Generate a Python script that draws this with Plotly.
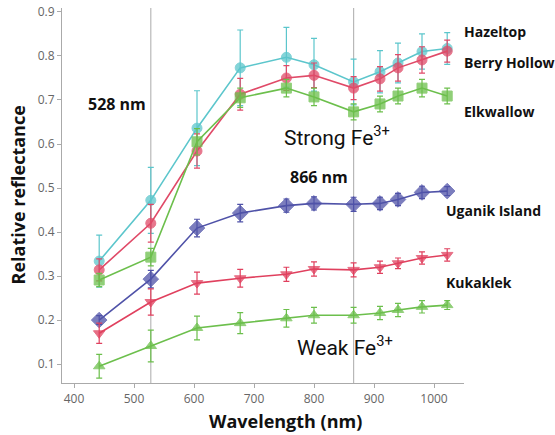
import plotly.graph_objects as go

wavelength = [442, 528, 605, 677, 754, 800, 866, 910, 940, 980, 1022]

hazeltop = [0.334, 0.472, 0.636, 0.773, 0.797, 0.780, 0.741, 0.764, 0.784, 0.810, 0.817]
hazeltop_err = [0.059, 0.075, 0.085, 0.086, 0.068, 0.060, 0.052, 0.048, 0.045, 0.040, 0.036]

berry_hollow = [0.314, 0.420, 0.584, 0.713, 0.750, 0.756, 0.727, 0.748, 0.773, 0.791, 0.811]
berry_hollow_err = [0.025, 0.043, 0.039, 0.036, 0.028, 0.028, 0.026, 0.028, 0.030, 0.030, 0.025]

elkwallow = [0.291, 0.343, 0.605, 0.705, 0.727, 0.707, 0.673, 0.691, 0.709, 0.727, 0.709]
elkwallow_err = [0.015, 0.020, 0.030, 0.022, 0.020, 0.020, 0.018, 0.018, 0.018, 0.020, 0.018]

uganik = [0.200, 0.293, 0.409, 0.443, 0.460, 0.465, 0.463, 0.465, 0.474, 0.490, 0.493]
uganik_err = [0.010, 0.020, 0.020, 0.020, 0.015, 0.015, 0.016, 0.014, 0.014, 0.014, 0.010]

kukaklek = [0.170, 0.241, 0.284, 0.295, 0.304, 0.316, 0.314, 0.320, 0.329, 0.341, 0.348]
kukaklek_err = [0.023, 0.030, 0.025, 0.020, 0.016, 0.016, 0.016, 0.014, 0.012, 0.014, 0.014]

weak = [0.095, 0.141, 0.182, 0.193, 0.204, 0.211, 0.211, 0.216, 0.223, 0.230, 0.234]
weak_err = [0.027, 0.036, 0.027, 0.024, 0.020, 0.018, 0.018, 0.015, 0.015, 0.014, 0.010]

series = [
    ("Hazeltop", hazeltop, hazeltop_err, "#5cc6cc", "circle", 10),
    ("Berry Hollow", berry_hollow, berry_hollow_err, "#e04a68", "circle", 10),
    ("Elkwallow", elkwallow, elkwallow_err, "#6cbf4c", "square", 10),
    ("Uganik Island", uganik, uganik_err, "#4f52a8", "diamond", 12),
    ("Kukaklek", kukaklek, kukaklek_err, "#e0405e", "triangle-down", 10),
    ("Weak", weak, weak_err, "#6cbf4c", "triangle-up", 10),
]

fig = go.Figure()
for name, vals, errs, color, sym, size in series:
    fig.add_trace(go.Scatter(
        x=wavelength, y=vals, mode="lines+markers", name=name,
        line=dict(color=color, width=1.6),
        marker=dict(symbol=sym, size=size, color=color, opacity=0.75,
                    line=dict(color=color, width=1)),
        error_y=dict(type="data", array=errs, color=color, thickness=1.2, width=3),
        showlegend=False,
    ))

for wl in [528, 866]:
    fig.add_shape(type="line", x0=wl, x1=wl, y0=0, y1=1, xref="x", yref="paper",
                  line=dict(color="#b8b8b8", width=1.2), layer="below")

bold = dict(family="Open Sans", size=14, color="#111111")
# series labels placed to the right of the plot (paper x coordinates)
labels = [
    ("Hazeltop", 0.855, 0.995),
    ("Berry Hollow", 0.786, 0.995),
    ("Elkwallow", 0.673, 0.995),
    ("Uganik Island", 0.448, 0.95),
    ("Kukaklek", 0.286, 0.95),
]
for text, yv, xv in labels:
    fig.add_annotation(x=xv, y=yv, xref="paper", yref="y", text="<b>%s</b>" % text,
                       showarrow=False, xanchor="left", yanchor="middle",
                       font=bold)

fig.add_annotation(x=420, y=0.691, xref="x", yref="y", text="<b>528 nm</b>",
                   showarrow=False, xanchor="left", yanchor="middle",
                   font=dict(family="Open Sans", size=16, color="#111111"))
fig.add_annotation(x=757, y=0.525, xref="x", yref="y", text="<b>866 nm</b>",
                   showarrow=False, xanchor="left", yanchor="middle",
                   font=dict(family="Open Sans", size=16, color="#111111"))
fig.add_annotation(x=746, y=0.618, xref="x", yref="y", text="Strong Fe<sup>3+</sup>",
                   showarrow=False, xanchor="left", yanchor="middle",
                   font=dict(family="Roboto", size=21, color="#111111"))
fig.add_annotation(x=768, y=0.140, xref="x", yref="y", text="Weak Fe<sup>3+</sup>",
                   showarrow=False, xanchor="left", yanchor="middle",
                   font=dict(family="Roboto", size=21, color="#111111"))

# axis titles
fig.add_annotation(x=0.555, y=0, xref="paper", yref="paper", yshift=-38,
                   text="<b>Wavelength (nm)</b>", showarrow=False,
                   xanchor="center", yanchor="middle",
                   font=dict(family="Open Sans", size=18, color="#111111"))
fig.add_annotation(x=0, y=0.5, xref="paper", yref="paper", xshift=-45,
                   text="<b>Relative reflectance</b>", showarrow=False, textangle=-90,
                   xanchor="center", yanchor="middle",
                   font=dict(family="Open Sans", size=18, color="#111111"))

fig.update_layout(
    width=555, height=435,
    margin=dict(l=62, r=91, t=8, b=52, autoexpand=False),
    paper_bgcolor="white", plot_bgcolor="white",
)
fig.update_xaxes(
    range=[380, 1050], tickvals=[400, 500, 600, 700, 800, 900, 1000],
    automargin=False,
    showgrid=False, zeroline=False, showline=True, linecolor="#aaaaaa", linewidth=1.2,
    ticks="outside", ticklen=4, tickcolor="#aaaaaa",
    tickfont=dict(family="Open Sans", size=12, color="#666666"),
)
fig.update_yaxes(
    range=[0.057, 0.909], tickvals=[0.1, 0.2, 0.3, 0.4, 0.5, 0.6, 0.7, 0.8, 0.9],
    tickformat=".1f", automargin=False,
    showgrid=False, zeroline=False, showline=True, linecolor="#aaaaaa", linewidth=1.2,
    ticks="outside", ticklen=4, tickcolor="#aaaaaa",
    tickfont=dict(family="Open Sans", size=12, color="#666666"),
)

fig.write_html("out.html", config={"displayModeBar": False},
               post_script="document.body.style.margin='0';document.body.style.overflow='hidden';")
